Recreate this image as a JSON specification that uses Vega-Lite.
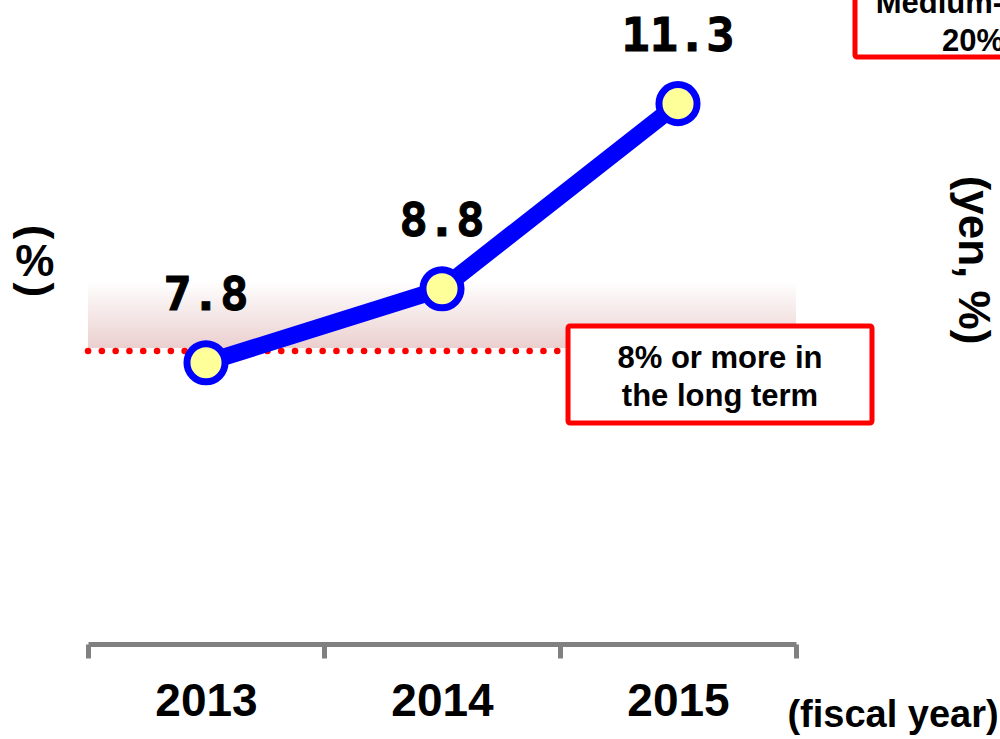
{
  "$schema": "https://vega.github.io/schema/vega-lite/v6.json",
  "autosize": {"type": "none"},
  "width": 708,
  "height": 644,
  "padding": {"left": 88, "top": 0, "right": 204, "bottom": 95},
  "background": "white",
  "config": {"view": {"stroke": null}},
  "datasets": {
    "roe": [
      {"year": 2013, "value": 7.8},
      {"year": 2014, "value": 8.8},
      {"year": 2015, "value": 11.3}
    ],
    "band": [{"from": 2012.5, "to": 2015.5, "low": 8, "high": 8.9}],
    "target": [{"from": 2012.5, "to": 2015.5, "value": 8}],
    "boxes": [
      {"x1": 2014.534, "x2": 2015.822, "y1": 6.986, "y2": 8.296},
      {"x1": 2015.75, "x2": 2016.8, "y1": 11.93, "y2": 13.6}
    ],
    "boxText": [
      {"x": 2015.178, "y": 7.729, "text": ["8% or more in", "the long term"]},
      {"x": 2016.25, "y": 12.53, "text": ["Medium-term", "20%"]}
    ],
    "sideText": [
      {"x": 2016.246, "y": 9.188, "text": "(yen, %)"},
      {"x": 2012.275, "y": 9.566, "text": "("},
      {"x": 2012.275, "y": 8.783, "text": ")"}
    ],
    "upright": [{"x": 2012.275, "y": 9.147, "text": "%"}],
    "unit": [{"x": 2015.911, "y": 2.879, "text": "(fiscal year)"}]
  },
  "layer": [
    {
      "data": {"name": "band"},
      "mark": {
        "type": "rect",
        "fill": {
          "gradient": "linear", "x1": 0, "y1": 0, "x2": 0, "y2": 1,
          "stops": [{"offset": 0, "color": "#ffffff"}, {"offset": 1, "color": "#ebcfcf"}]
        }
      },
      "encoding": {
        "x": {
          "field": "from", "type": "quantitative",
          "scale": {"domain": [2012.5, 2015.5], "nice": false, "zero": false},
          "axis": {
            "values": [2012.5, 2013, 2013.5, 2014, 2014.5, 2015, 2015.5],
            "labelExpr": "datum.value % 1 === 0 ? format(datum.value, 'd') : ''",
            "title": null,
            "grid": false,
            "domainColor": "#808080",
            "domainWidth": 5,
            "tickColor": "#808080",
            "tickWidth": 5,
            "tickSize": 14,
            "tickOpacity": {"condition": {"test": "datum.value % 1 === 0", "value": 0}, "value": 1},
            "labelFont": "Liberation Sans",
            "labelFontWeight": "bold",
            "labelFontSize": 46,
            "labelColor": "black",
            "labelBaseline": "alphabetic",
            "labelPadding": 57,
            "labelOverlap": false,
            "labelFlush": false
          }
        },
        "x2": {"field": "to"},
        "y": {
          "field": "low", "type": "quantitative",
          "scale": {"domain": [4, 12.7], "nice": false, "zero": false},
          "axis": null
        },
        "y2": {"field": "high"}
      }
    },
    {
      "data": {"name": "target"},
      "mark": {"type": "rule", "color": "#ff0000", "strokeWidth": 6.5, "strokeCap": "round", "strokeDash": [0.1, 13.7], "yOffset": 3},
      "encoding": {
        "x": {"field": "from", "type": "quantitative"},
        "x2": {"field": "to"},
        "y": {"field": "value", "type": "quantitative", "axis": null}
      }
    },
    {
      "data": {"name": "roe"},
      "mark": {"type": "line", "color": "#0000ff", "strokeWidth": 17, "strokeJoin": "round"},
      "encoding": {
        "x": {"field": "year", "type": "quantitative"},
        "y": {"field": "value", "type": "quantitative", "axis": null}
      }
    },
    {
      "data": {"name": "roe"},
      "mark": {"type": "circle", "fill": "#ffff99", "stroke": "#0000ff", "strokeWidth": 7, "size": 1450, "opacity": 1, "fillOpacity": 1},
      "encoding": {
        "x": {"field": "year", "type": "quantitative"},
        "y": {"field": "value", "type": "quantitative", "axis": null}
      }
    },
    {
      "data": {"name": "roe"},
      "mark": {"type": "text", "font": "DejaVu Sans Mono", "fontWeight": "bold", "fontSize": 47, "baseline": "alphabetic", "align": "center", "dy": -53, "color": "black", "stroke": "black", "strokeWidth": 1},
      "encoding": {
        "x": {"field": "year", "type": "quantitative"},
        "y": {"field": "value", "type": "quantitative", "axis": null},
        "text": {"field": "value", "type": "quantitative", "format": ".1f"}
      }
    },
    {
      "data": {"name": "boxes"},
      "mark": {"type": "rect", "fill": "white", "stroke": "#ff0000", "strokeWidth": 5, "cornerRadius": 2},
      "encoding": {
        "x": {"field": "x1", "type": "quantitative"},
        "x2": {"field": "x2"},
        "y": {"field": "y1", "type": "quantitative", "axis": null},
        "y2": {"field": "y2"}
      }
    },
    {
      "data": {"name": "boxText"},
      "mark": {"type": "text", "font": "Liberation Sans", "fontWeight": "bold", "fontSize": 31, "lineHeight": 38, "align": "center", "baseline": "alphabetic", "color": "black"},
      "encoding": {
        "x": {"field": "x", "type": "quantitative"},
        "y": {"field": "y", "type": "quantitative", "axis": null},
        "text": {"field": "text"}
      }
    },
    {
      "data": {"name": "sideText"},
      "mark": {"type": "text", "font": "Liberation Sans", "fontWeight": "bold", "fontSize": 44, "angle": 90, "align": "center", "baseline": "middle", "color": "black"},
      "encoding": {
        "x": {"field": "x", "type": "quantitative"},
        "y": {"field": "y", "type": "quantitative", "axis": null},
        "text": {"field": "text"}
      }
    },
    {
      "data": {"name": "upright"},
      "mark": {"type": "text", "font": "Liberation Sans", "fontWeight": "bold", "fontSize": 44, "align": "center", "baseline": "middle", "color": "black"},
      "encoding": {
        "x": {"field": "x", "type": "quantitative"},
        "y": {"field": "y", "type": "quantitative", "axis": null},
        "text": {"field": "text"}
      }
    },
    {
      "data": {"name": "unit"},
      "mark": {"type": "text", "font": "Liberation Sans", "fontWeight": "bold", "fontSize": 38, "align": "center", "baseline": "alphabetic", "color": "black"},
      "encoding": {
        "x": {"field": "x", "type": "quantitative"},
        "y": {"field": "y", "type": "quantitative", "axis": null},
        "text": {"field": "text"}
      }
    }
  ]
}
